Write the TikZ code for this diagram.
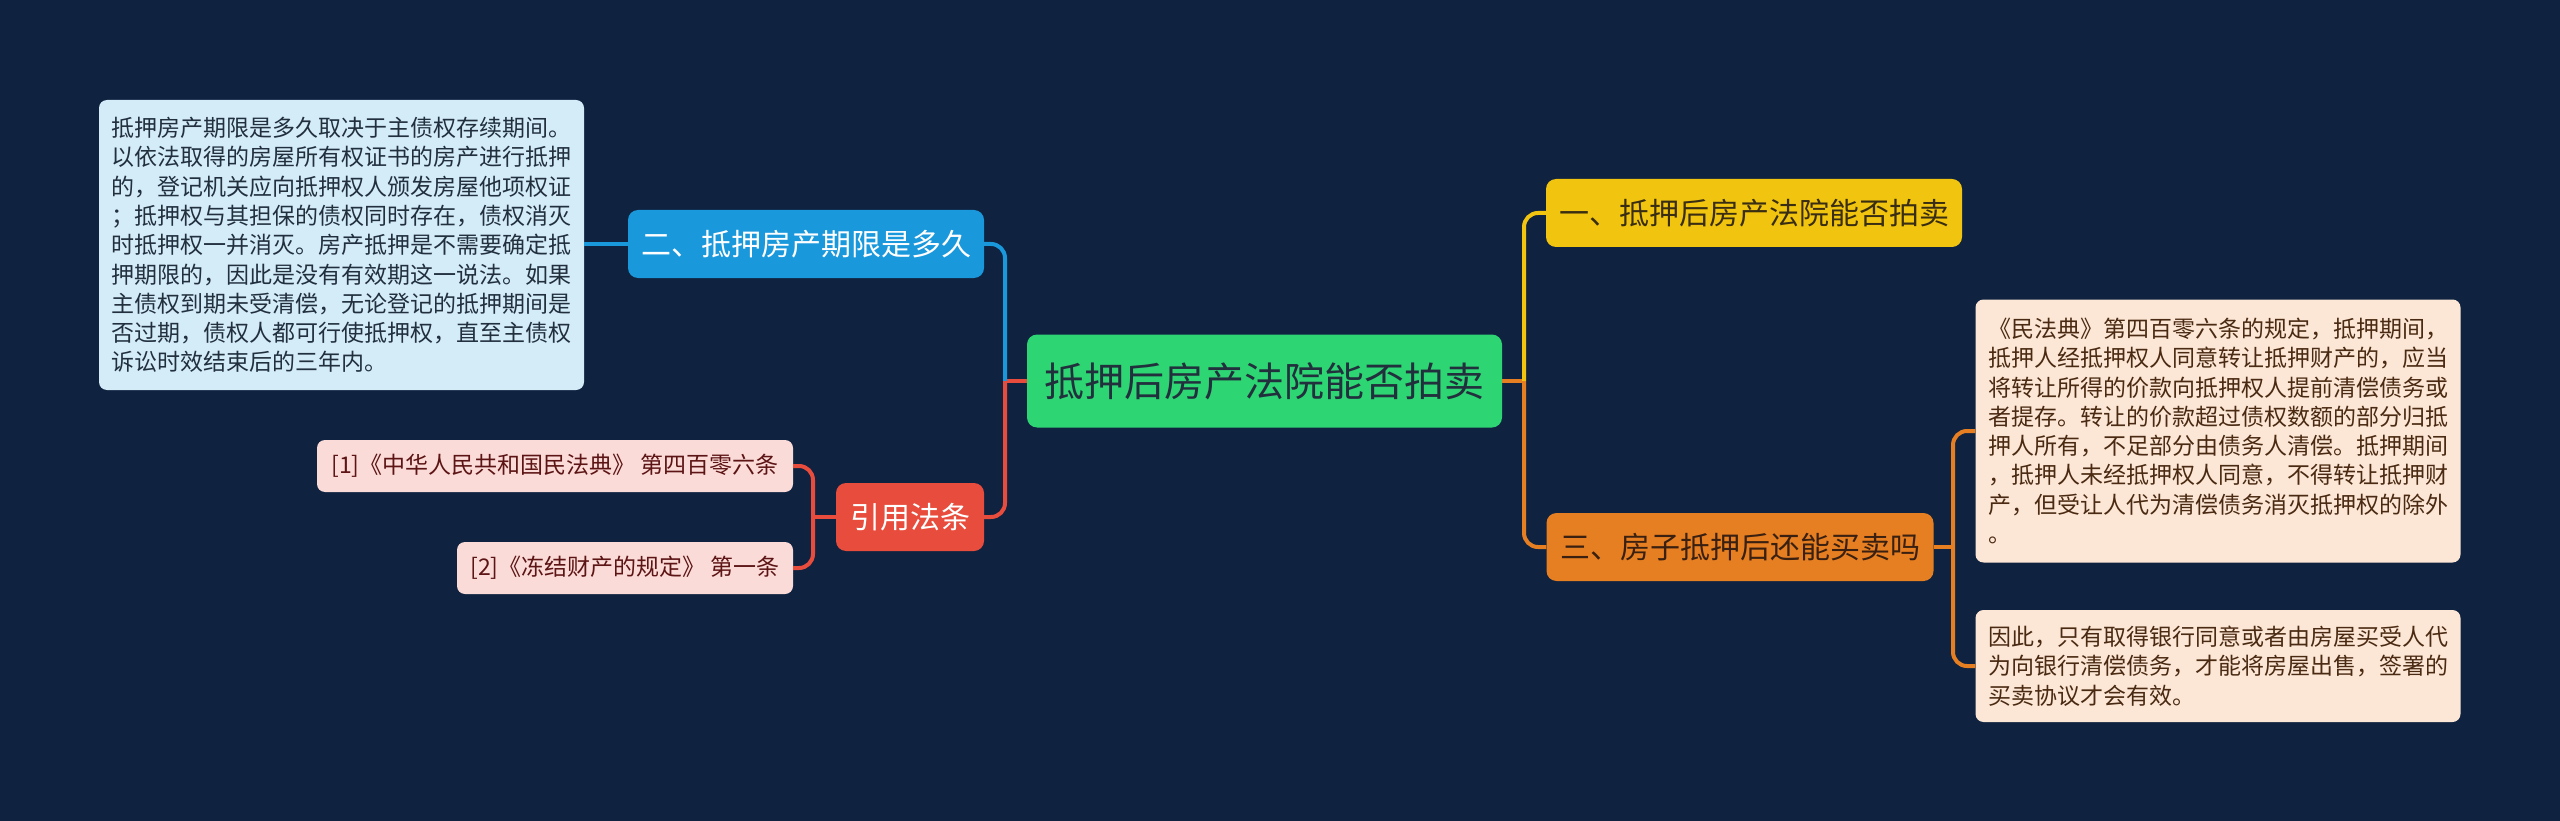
\documentclass[tikz,border=0pt]{standalone}
\usepackage{fontspec}
\setmainfont{Noto Sans CJK SC}
\definecolor{bg}{HTML}{0F2240}
\definecolor{cgreen}{HTML}{2ED573}
\definecolor{cyellow}{HTML}{F1C40F}
\definecolor{corange}{HTML}{E67E22}
\definecolor{cblue}{HTML}{1A98DC}
\definecolor{cred}{HTML}{E74C3C}
\definecolor{lblue}{HTML}{D4ECF8}
\definecolor{lpeach}{HTML}{FCE7D6}
\definecolor{lpink}{HTML}{FADBD8}
\definecolor{tdark}{HTML}{22303E}
\definecolor{tbrown}{HTML}{4A2A12}
\definecolor{tred}{HTML}{5C1414}
\definecolor{tyel}{HTML}{3A2E12}
\definecolor{tora}{HTML}{3A2010}
\tikzset{
  box/.style={rectangle, rounded corners=10pt, inner sep=0pt, align=center},
  mainbox/.style={box, font=\fontsize{30}{36}\selectfont, minimum height=68pt},
  leafbox/.style={box, rounded corners=8pt, align=left, font=\fontsize{23}{29.3}\selectfont},
  refbox/.style={box, rounded corners=8pt, fill=lpink, text=tred, font=\fontsize{23}{28}\selectfont, minimum height=52pt},
  conn/.style={line width=4pt, rounded corners=14pt},
}
\begin{document}
\begin{tikzpicture}[x=1pt,y=-1pt]
\fill[bg] (0,0) rectangle (2560,821);
\useasboundingbox (0,0) rectangle (2560,821);

% nodes
\node[box, fill=cgreen, text=tdark, minimum width=475pt, minimum height=93pt,
      font=\fontsize{40}{48}\selectfont] (root) at (1264.5,381) {抵押后房产法院能否拍卖};

\node[mainbox, fill=cyellow, text=tyel, minimum width=416pt] (n1) at (1754,213) {一、抵押后房产法院能否拍卖};
\node[mainbox, fill=corange, text=tora, minimum width=387pt] (n3) at (1740,547) {三、房子抵押后还能买卖吗};
\node[mainbox, fill=cblue, text=white, minimum width=356pt] (n2) at (806,244) {二、抵押房产期限是多久};
\node[mainbox, fill=cred, text=white, minimum width=148pt] (nref) at (910,517) {引用法条};

\node[leafbox, fill=lblue, text=tdark, minimum width=485pt, minimum height=290pt] (l2) at (341.5,245) {%
抵押房产期限是多久取决于主债权存续期间。\\
以依法取得的房屋所有权证书的房产进行抵押\\
的，登记机关应向抵押权人颁发房屋他项权证\\
；抵押权与其担保的债权同时存在，债权消灭\\
时抵押权一并消灭。房产抵押是不需要确定抵\\
押期限的，因此是没有有效期这一说法。如果\\
主债权到期未受清偿，无论登记的抵押期间是\\
否过期，债权人都可行使抵押权，直至主债权\\
诉讼时效结束后的三年内。};

\node[leafbox, fill=lpeach, text=tbrown, minimum width=485pt, minimum height=263pt] (l31) at (2218,431) {%
《民法典》第四百零六条的规定，抵押期间，\\
抵押人经抵押权人同意转让抵押财产的，应当\\
将转让所得的价款向抵押权人提前清偿债务或\\
者提存。转让的价款超过债权数额的部分归抵\\
押人所有，不足部分由债务人清偿。抵押期间\\
，抵押人未经抵押权人同意，不得转让抵押财\\
产，但受让人代为清偿债务消灭抵押权的除外\\
。};

\node[leafbox, fill=lpeach, text=tbrown, minimum width=485pt, minimum height=112pt] (l32) at (2218,666) {%
因此，只有取得银行同意或者由房屋买受人代\\
为向银行清偿债务，才能将房屋出售，签署的\\
买卖协议才会有效。};

\node[refbox, minimum width=476pt] (r1) at (555,466) {[1]《中华人民共和国民法典》 第四百零六条};
\node[refbox, minimum width=336pt] (r2) at (625,568) {[2]《冻结财产的规定》 第一条};

% junction coordinates
\coordinate (jr) at (1524,381);
\coordinate (jl) at (1005,381);
\coordinate (j3) at (1953,547);
\coordinate (jref) at (813,517);

% connectors right
\draw[conn, corange] (root.east) -- (jr);
\draw[conn, cyellow] (jr) |- (n1.west);
\draw[conn, corange] (jr) |- (n3.west);
% connectors left
\draw[conn, cred] (root.west) -- (jl);
\draw[conn, cblue] (jl) |- (n2.east);
\draw[conn, cred] (jl) |- (nref.east);
\draw[conn, cblue] (n2.west) -- (l2.east |- n2.west);
% branch 3
\draw[conn, corange] (n3.east) -- (j3);
\draw[conn, corange] (j3) |- (l31.west);
\draw[conn, corange] (j3) |- (l32.west);
% references
\draw[conn, cred] (nref.west) -- (jref);
\draw[conn, cred] (jref) |- (r1.east);
\draw[conn, cred] (jref) |- (r2.east);
\end{tikzpicture}
\end{document}
